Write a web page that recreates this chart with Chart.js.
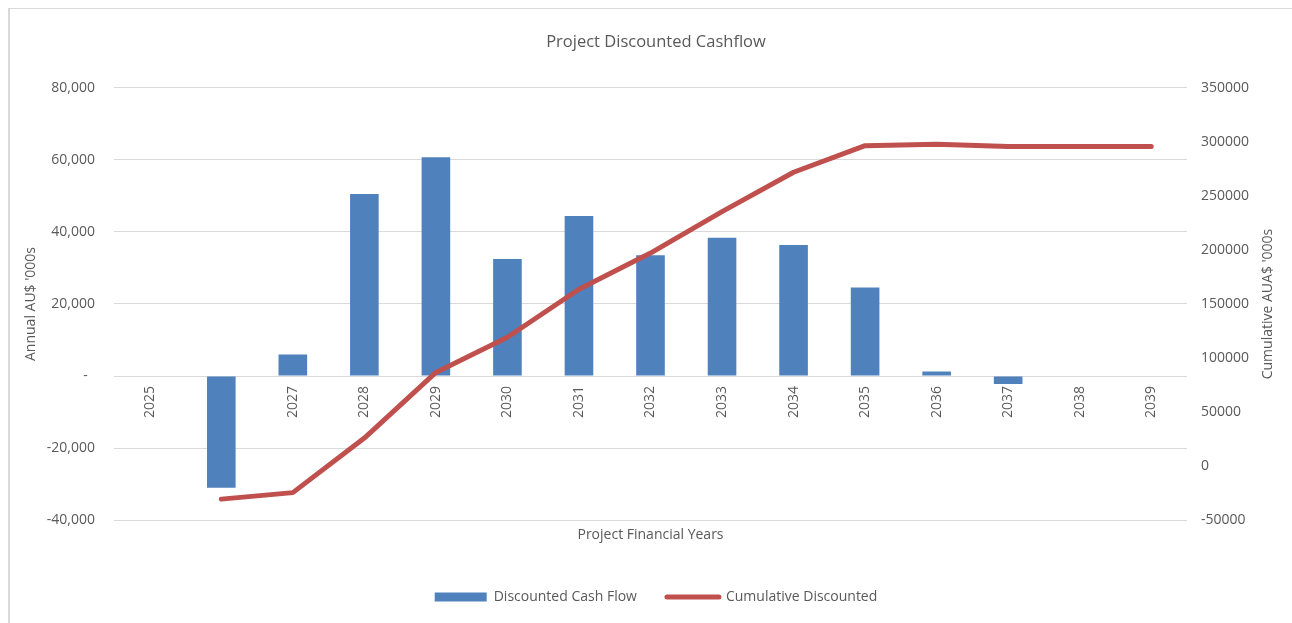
<!DOCTYPE html>
<html>
<head>
<meta charset="utf-8">
<title>Project Discounted Cashflow</title>
<script src="https://cdn.jsdelivr.net/npm/chart.js@4.4.1/dist/chart.umd.min.js"></script>
<style>
  html, body { margin:0; padding:0; background:#fff; overflow:hidden; }
  #frame { position:absolute; left:8px; top:8px; width:1400px; height:700px; border-left:2px solid #d9d9d9; border-top:1px solid #d9d9d9; }
  #wrap { position:absolute; left:0; top:0; width:1292px; height:623px; }
</style>
</head>
<body>
<div id="frame"></div>
<div id="wrap"><canvas id="cashChart" width="1292" height="623"></canvas></div>
<script>
// values (AU$ '000s)
const years = ['2025','2026','2027','2028','2029','2030','2031','2032','2033','2034','2035','2036','2037','2038','2039'];
const discountedCashFlow = [0, -31000, 6000, 50500, 60700, 32500, 44400, 33500, 38400, 36400, 24600, 1300, -2200, 0, 0];
const cumulativeDiscounted = [null, -30500, -24500, 26000, 86700, 119200, 163600, 197100, 235500, 271900, 296500, 297800, 295600, 295600, 295600];
const leftTicks = { min:-40000, max:80000, step:20000 };
const rightTicks = { min:-50000, max:350000, step:50000 };

const BLUE = '#4f81bd';
const RED = '#c0504d';
const TEXT = '#595959';
const GRID = '#d9d9d9';
const FONT = "'Open Sans', 'Noto Sans', sans-serif";

Chart.defaults.font.family = FONT;
Chart.defaults.color = TEXT;

// right axis title reads bottom-to-top in the original, Chart.js would flip it
const rightTitle = {
  id: 'rightTitle',
  afterDraw(chart){
    const ctx = chart.ctx, area = chart.chartArea;
    ctx.save();
    ctx.translate(1268, (area.top + area.bottom)/2);
    ctx.rotate(-Math.PI/2);
    ctx.font = '14px ' + FONT;
    ctx.fillStyle = TEXT;
    ctx.textAlign = 'center';
    ctx.textBaseline = 'middle';
    ctx.fillText("Cumulative AUA$ '000s", 0, 0);
    ctx.restore();
  }
};

new Chart(document.getElementById('cashChart').getContext('2d'), {
  type: 'bar',
  data: {
    labels: years,
    datasets: [{
      type: 'bar',
      label: 'Discounted Cash Flow',
      data: discountedCashFlow,
      backgroundColor: BLUE,
      yAxisID: 'y',
      xAxisID: 'x',
      categoryPercentage: 1,
      barPercentage: 0.4,
      order: 1
    },{
      type: 'line',
      label: 'Cumulative Discounted',
      data: cumulativeDiscounted,
      borderColor: RED,
      backgroundColor: RED,
      borderWidth: 5,
      borderCapStyle: 'round',
      borderJoinStyle: 'round',
      pointRadius: 0,
      tension: 0,
      yAxisID: 'y1',
      xAxisID: 'x',
      order: 0
    }]
  },
  options: {
    responsive: false,
    animation: false,
    layout: { padding: { left:20, right:0, top:0, bottom:9 } },
    plugins: {
      title: {
        display: true,
        text: 'Project Discounted Cashflow',
        color: TEXT,
        font: { size:16.5, weight:'normal' },
        padding: { top:32, bottom:36 }
      },
      legend: {
        position: 'bottom',
        labels: {
          color: TEXT,
          font: { size:14 },
          usePointStyle: true,
          pointStyleWidth: 52,
          boxHeight: 9,
          padding: 30,
          sort: (a, b) => a.datasetIndex - b.datasetIndex,
          generateLabels(chart){
            const items = Chart.defaults.plugins.legend.labels.generateLabels(chart);
            items.forEach(it => {
              if(it.datasetIndex === 0){
                it.pointStyle = 'rect'; it.lineWidth = 0; it.fillStyle = BLUE; it.strokeStyle = BLUE;
              } else {
                it.pointStyle = 'line'; it.lineWidth = 5; it.lineCap = 'round'; it.strokeStyle = RED; it.fillStyle = RED;
              }
            });
            return items;
          }
        }
      },
      tooltip: { enabled:false }
    },
    scales: {
      x: {
        type: 'category',
        position: { y: 0 },
        grid: { display:false, drawTicks:false },
        border: { display:false },
        ticks: { minRotation:90, maxRotation:90, padding:10, color:TEXT, font:{ size:14 }, autoSkip:false }
      },
      xTitle: {
        type: 'category',
        position: 'bottom',
        labels: years,
        grid: { display:false, drawTicks:false },
        border: { display:false },
        ticks: { display:false },
        title: { display:true, text:'Project Financial Years', color:TEXT, font:{ size:14 }, padding:{ top:6, bottom:17 } }
      },
      y: {
        position: 'left',
        min: leftTicks.min, max: leftTicks.max,
        grid: { color:GRID, lineWidth:1, drawTicks:false },
        border: { display:false },
        ticks: {
          stepSize: leftTicks.step, padding: 19, color:TEXT, font:{ size:14 },
          callback: v => v === 0 ? '-  ' : v.toLocaleString('en-US')
        },
        title: { display:true, text:"Annual AU$ '000s", color:TEXT, font:{ size:14 }, padding:{ top:3, bottom:0 } },
        afterFit(scale){ scale.width = 94; }
      },
      y1: {
        position: 'right',
        min: rightTicks.min, max: rightTicks.max,
        grid: { display:false, drawTicks:false },
        border: { display:false },
        ticks: {
          stepSize: rightTicks.step, padding: 14, color:TEXT, font:{ size:14 },
          callback: v => String(v)
        },
        afterFit(scale){ scale.width = 105; }
      }
    }
  },
  plugins: [rightTitle]
});
</script>
</body>
</html>
